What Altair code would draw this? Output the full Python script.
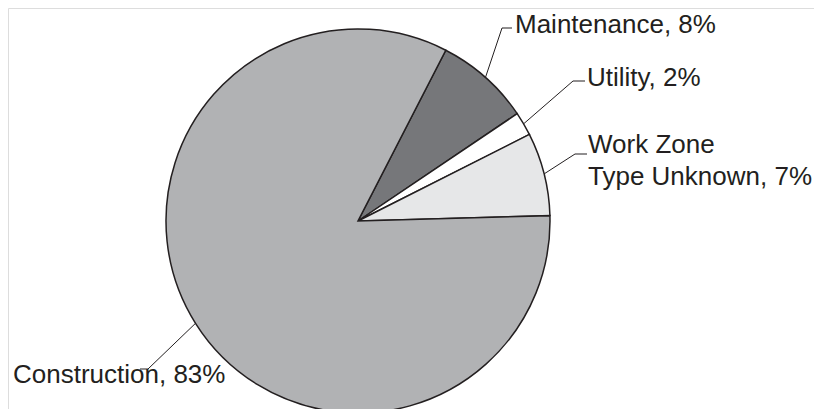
import math
import altair as alt
import pandas as pd

# ---- data ----
categories = ["Maintenance", "Utility", "Work Zone Type Unknown", "Construction"]
shares = [8, 2, 7, 83]
labels = ["Maintenance, 8%", "Utility, 2%", "Work Zone\nType Unknown, 7%", "Construction, 83%"]
colors = ["#76777a", "#ffffff", "#e6e7e8", "#b1b2b4"]

# ---- layout (pixels relative to pie centre) ----
W, H = 806, 401
CX, CY = 350, 213
R = 192
START_DEG = 27.2
elbow_dx = [144, 215, 217, -210]
elbow_dy = [-193, -140, -67, 148]
end_dx = [154, 227, 229, -218]
text_dx = [157, 229, 230, -345]
text_dy = [-188, -135, -68, 162]

pie_df = pd.DataFrame({"category": categories, "share": shares,
                       "order": list(range(len(categories)))})

# leader lines: start at slice mid-angle on the rim
total = sum(shares)
rows = []
cum = 0.0
for i, (c, s) in enumerate(zip(categories, shares)):
    mid = math.radians(START_DEG + (cum + s / 2) / total * 360)
    cum += s
    sx, sy = R * math.sin(mid), -R * math.cos(mid)
    rows.append({"category": c, "k": 0, "x": sx, "y": sy})
    rows.append({"category": c, "k": 1, "x": elbow_dx[i], "y": elbow_dy[i]})
    rows.append({"category": c, "k": 2, "x": end_dx[i], "y": elbow_dy[i]})
lines_df = pd.DataFrame(rows)

text_df = pd.DataFrame({"category": categories, "label": labels,
                        "x": text_dx, "y": text_dy})

xs = alt.Scale(domain=[-CX, W - CX])
ys = alt.Scale(domain=[-CY, H - CY], reverse=True)
start = math.radians(START_DEG)

pie = alt.Chart(pie_df).mark_arc(radius=R, stroke="#231f20", strokeWidth=1.5).encode(
    theta=alt.Theta("share:Q", stack=True, scale=alt.Scale(range=[start, start + 2 * math.pi])),
    order=alt.Order("order:Q"),
    color=alt.Color("category:N", scale=alt.Scale(domain=categories, range=colors), legend=None),
    x=alt.value(CX),
    y=alt.value(CY),
)

leaders = alt.Chart(lines_df).mark_line(color="#231f20", strokeWidth=1).encode(
    x=alt.X("x:Q", scale=xs, axis=None),
    y=alt.Y("y:Q", scale=ys, axis=None),
    detail="category:N",
    order="k:Q",
)

texts = alt.Chart(text_df).mark_text(
    align="left", baseline="alphabetic", font="Liberation Sans", fontSize=26,
    color="#231f20", lineBreak="\n", lineHeight=32,
).encode(
    x=alt.X("x:Q", scale=xs, axis=None),
    y=alt.Y("y:Q", scale=ys, axis=None),
    text="label:N",
)

chart = alt.layer(pie, leaders, texts).properties(
    width=W, height=H, padding=0, autosize=alt.AutoSizeParams(type="none")
).configure_view(strokeWidth=0, strokeOpacity=0).configure(background="white")

chart.save("out.html", embed_options={"renderer": "svg", "actions": False})
